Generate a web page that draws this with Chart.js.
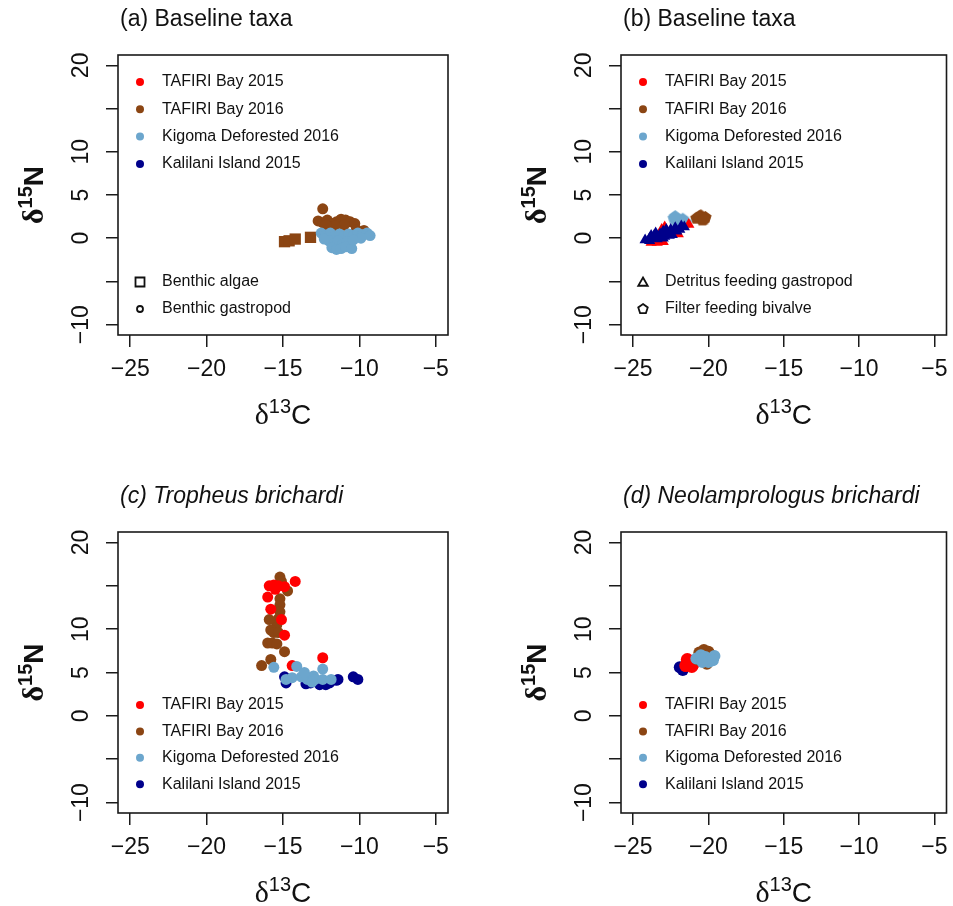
<!DOCTYPE html>
<html>
<head>
<meta charset="utf-8">
<script src="https://cdn.jsdelivr.net/npm/chart.js@4.4.1/dist/chart.umd.min.js"></script>
<style>
  body { margin: 0; background: #fff; }
  #wrap { position: relative; width: 953px; height: 906px; }
  #wrap canvas { position: absolute; }
</style>
</head>
<body>
<div id="wrap">
  <canvas id="chartA" width="476" height="453" style="left:0;top:0"></canvas>
  <canvas id="chartB" width="477" height="453" style="left:476px;top:0"></canvas>
  <canvas id="chartC" width="476" height="453" style="left:0;top:453px"></canvas>
  <canvas id="chartD" width="477" height="453" style="left:476px;top:453px"></canvas>
</div>
<script>
// Sites (legend order) and their colours
var siteNames = ['TAFIRI Bay 2015', 'TAFIRI Bay 2016', 'Kigoma Deforested 2016', 'Kalilani Island 2015'];
var siteColours = ['#FF0000', '#8B4513', '#6CA6CD', '#00008B'];

// Axis ticks, shared by all panels
var xLim = [-25, -5];
var yLim = [-10, 20];
var xTicks = [-25, -20, -15, -10, -5];
var xTickLabels = ['\u221225', '\u221220', '\u221215', '\u221210', '\u22125'];
var yTicks = [-10, -5, 0, 5, 10, 15, 20];
var yTickLabels = ['\u221210', '', '0', '5', '10', '', '20'];

// (a) baseline taxa: benthic algae and benthic gastropods  [d13C, d15N]
var aAlgaeBay16 = [[-14.9, -0.4], [-14.6, -0.3], [-14.2, -0.1], [-13.2, 0.1]];
var aSnailBay16 = [[-12.4, 3.4], [-12.7, 2.0], [-12.4, 1.8], [-12.1, 2.1], [-11.8, 1.7], [-11.5, 1.9],
  [-11.2, 2.2], [-10.9, 2.1], [-10.6, 1.9], [-10.3, 1.7], [-11.0, 1.5], [-11.6, 1.4], [-12.2, 1.5],
  [-10.2, 1.0], [-9.7, 0.9]];
var aSnailKig16 = [[-12.5, 0.6], [-12.2, 0.3], [-11.9, 0.6], [-11.6, 0.2], [-11.3, 0.5], [-11.0, 0.2],
  [-10.7, 0.5], [-10.4, 0.3], [-10.1, 0.6], [-9.8, 0.4], [-9.5, 0.6], [-9.3, 0.3], [-9.9, 0.0],
  [-12.0, -0.3], [-11.7, -0.6], [-11.4, -0.3], [-11.1, -0.7], [-10.8, -0.4], [-11.8, -1.1],
  [-11.5, -1.3], [-11.2, -1.2], [-10.9, -1.0], [-10.5, -1.2], [-10.4, -0.2], [-12.3, -0.1]];

// (b) baseline taxa: detritus feeding gastropods and filter feeding bivalves
var bSnailBay15 = [[-23.8, -0.5], [-23.4, -0.5], [-23.0, -0.4], [-22.9, 1.3], [-22.3, 0.7], [-21.3, 1.6],
  [-23.1, 1.0], [-22.0, 0.5], [-23.6, -0.2]];
var bSnailKal15 = [[-24.2, -0.2], [-23.9, 0.0], [-23.6, 0.3], [-23.4, -0.1], [-23.2, 0.5], [-23.0, 0.8],
  [-22.7, 0.6], [-22.5, 1.0], [-22.2, 1.2], [-21.9, 1.0], [-21.6, 1.3], [-23.5, 0.6], [-22.9, 0.2],
  [-22.4, 0.4], [-23.8, 0.3], [-23.3, 0.1], [-22.8, 1.0], [-22.6, 0.3], [-22.1, 0.8], [-21.8, 1.4],
  [-23.9, -0.3], [-23.0, 0.0]];
var bMusselKig16 = [[-22.3, 2.3], [-22.0, 2.1], [-21.7, 2.2], [-21.5, 1.8], [-22.1, 1.8], [-21.8, 1.9], [-22.2, 2.5]];
var bMusselBay16 = [[-20.8, 2.3], [-20.5, 2.6], [-20.2, 2.4], [-20.4, 2.1], [-20.6, 2.5], [-20.3, 2.2]];

// (c) Tropheus brichardi
var cBay15 = [[-14.2, 15.5], [-15.9, 15.0], [-15.6, 15.1], [-15.3, 15.0], [-14.9, 14.9], [-16.0, 13.7],
  [-15.8, 12.3], [-15.1, 11.1], [-14.9, 9.3], [-14.4, 5.8], [-12.4, 6.7], [-15.5, 14.6]];
var cBay16 = [[-15.2, 16.0], [-14.7, 14.4], [-15.2, 13.5], [-15.2, 12.8], [-15.2, 12.0], [-15.3, 11.2],
  [-15.4, 10.5], [-15.9, 11.1], [-15.8, 9.9], [-15.6, 9.6], [-15.3, 9.6], [-16.0, 8.4], [-15.7, 8.4],
  [-15.4, 8.3], [-14.9, 7.4], [-15.8, 6.5], [-16.4, 5.8], [-15.1, 15.5]];
var cKig16 = [[-15.6, 5.6], [-14.1, 5.7], [-14.4, 4.4], [-13.8, 4.5], [-13.4, 4.2], [-13.0, 4.6],
  [-12.9, 4.2], [-12.4, 5.4], [-12.4, 4.2], [-11.85, 4.2], [-14.8, 4.2], [-13.1, 3.9], [-13.6, 5.0]];
var cKal15 = [[-14.9, 4.5], [-14.8, 3.8], [-13.5, 3.7], [-12.6, 3.6], [-12.2, 3.6], [-11.95, 3.8],
  [-11.4, 4.2], [-10.4, 4.5], [-10.1, 4.2], [-11.5, 4.1], [-13.2, 3.8]];

// (d) Neolamprologus brichardi
var dBay15 = [[-21.5, 5.8], [-21.3, 6.3], [-21.0, 6.0], [-21.4, 6.5], [-21.1, 5.7]];
var dBay16 = [[-20.6, 7.3], [-20.3, 7.6], [-20.0, 7.4], [-19.8, 7.0], [-20.1, 6.0], [-20.7, 6.5]];
var dKig16 = [[-20.8, 6.6], [-20.5, 7.0], [-20.2, 6.8], [-19.8, 6.5], [-19.6, 6.9], [-20.0, 6.2], [-20.4, 6.2], [-19.7, 6.4]];
var dKal15 = [[-21.9, 5.6], [-21.7, 5.3]];

var FONT = '"Liberation Sans", Arial, sans-serif';
Chart.defaults.font.family = FONT;

// filled pentagon sprite, used as a point style
function pentagon(colour, r) {
  var c = document.createElement('canvas');
  var s = Math.ceil(r * 2 + 2);
  c.width = s; c.height = s;
  var g = c.getContext('2d');
  g.beginPath();
  for (var k = 0; k < 5; k++) {
    var a = -Math.PI / 2 + k * 2 * Math.PI / 5;
    g.lineTo(s / 2 + r * Math.cos(a), s / 2 + r * Math.sin(a));
  }
  g.closePath();
  g.fillStyle = colour;
  g.fill();
  return c;
}

function pts(arr) {
  return arr.map(function (p) { return { x: p[0], y: p[1] }; });
}

function series(data, site, style, radius, order) {
  return {
    data: pts(data),
    backgroundColor: siteColours[site],
    borderWidth: 0,
    pointStyle: style,
    pointRadius: radius,
    pointHoverRadius: radius,
    order: order
  };
}

// delta notation label, e.g. d13C, centred on x = 0, baseline at y = 0
function drawDelta(ctx, iso, elem, bold) {
  var w = bold ? 'bold ' : '';
  var parts = [
    { t: '\u03b4', f: w + '30px "Liberation Serif", serif', dy: 0 },
    { t: iso, f: w + '20px ' + FONT, dy: -11 },
    { t: elem, f: w + '28px ' + FONT, dy: 0 }
  ];
  var total = 0;
  parts.forEach(function (p) { ctx.font = p.f; p.w = ctx.measureText(p.t).width; total += p.w; });
  var x = -total / 2;
  ctx.textAlign = 'left';
  ctx.textBaseline = 'alphabetic';
  parts.forEach(function (p) { ctx.font = p.f; ctx.fillText(p.t, x, p.dy); x += p.w; });
}

function drawShape(ctx, shape, x, y) {
  ctx.beginPath();
  if (shape === 'square') {
    ctx.rect(x - 4.5, y - 4.5, 9, 9);
  } else if (shape === 'circle') {
    ctx.arc(x, y, 3, 0, Math.PI * 2);
  } else {
    var n = shape === 'triangle' ? 3 : 5;
    var r = shape === 'triangle' ? 5.5 : 5;
    for (var k = 0; k < n; k++) {
      var a = -Math.PI / 2 + k * 2 * Math.PI / n;
      ctx.lineTo(x + r * Math.cos(a), y + r * Math.sin(a) + (n === 3 ? 1 : 0));
    }
    ctx.closePath();
  }
  ctx.stroke();
}

// frame, titles, axis labels and legends
var panelDeco = {
  id: 'panelDeco',
  afterDraw: function (chart, args, o) {
    var ctx = chart.ctx;
    var a = chart.chartArea;
    ctx.save();
    ctx.strokeStyle = '#1a1a1a';
    ctx.lineWidth = 1.6;
    ctx.strokeRect(a.left, a.top, a.right - a.left, a.bottom - a.top);

    ctx.fillStyle = '#111';
    ctx.font = (o.italic ? 'italic ' : '') + '23px ' + FONT;
    ctx.textAlign = 'left';
    ctx.textBaseline = 'middle';
    ctx.fillText(o.title, a.left + 2, a.top - 35);

    ctx.save();
    ctx.translate((a.left + a.right) / 2, a.bottom + 89);
    drawDelta(ctx, '13', 'C', false);
    ctx.restore();

    ctx.save();
    ctx.translate(a.left - 75, (a.top + a.bottom) / 2);
    ctx.rotate(-Math.PI / 2);
    drawDelta(ctx, '15', 'N', true);
    ctx.restore();

    ctx.font = '16px ' + FONT;
    ctx.textBaseline = 'middle';
    siteNames.forEach(function (name, i) {
      var y = a.top + o.legendTop + i * o.legendStep;
      ctx.beginPath();
      ctx.arc(a.left + 22, y, 4, 0, Math.PI * 2);
      ctx.fillStyle = siteColours[i];
      ctx.fill();
      ctx.fillStyle = '#111';
      ctx.fillText(name, a.left + 44, y);
    });

    if (o.shapes) {
      ctx.strokeStyle = '#111';
      ctx.lineWidth = 1.8;
      o.shapes.forEach(function (s, i) {
        var y = a.top + 227 + i * 27;
        drawShape(ctx, s, a.left + 22, y);
        ctx.fillText(o.shapeNames[i], a.left + 44, y);
      });
    }
    ctx.restore();
  }
};

function makePanel(id, box, deco, datasets) {
  var el = document.getElementById(id);
  var w = el.width, h = el.height;
  var xPad = (xLim[1] - xLim[0]) * 0.04;
  var yPad = (yLim[1] - yLim[0]) * 0.04;
  var grid = { drawOnChartArea: false, drawTicks: true, tickLength: 12, color: '#1a1a1a', lineWidth: 1.5 };
  return new Chart(el.getContext('2d'), {
    type: 'scatter',
    data: { datasets: datasets },
    options: {
      responsive: false,
      animation: false,
      events: [],
      layout: { padding: { left: 0, top: box[1], right: w - box[2], bottom: 0 } },
      scales: {
        x: {
          type: 'linear',
          min: xLim[0] - xPad,
          max: xLim[1] + xPad,
          afterBuildTicks: function (s) { s.ticks = xTicks.map(function (v) { return { value: v }; }); },
          afterFit: function (s) { s.height = h - box[3]; s.paddingLeft = 0; s.paddingRight = 0; },
          grid: grid,
          border: { display: false },
          ticks: {
            autoSkip: false, maxRotation: 0, padding: 9, color: '#111',
            font: { size: 23 },
            callback: function (v, i) { return xTickLabels[i]; }
          }
        },
        y: {
          type: 'linear',
          min: yLim[0] - yPad,
          max: yLim[1] + yPad,
          afterBuildTicks: function (s) { s.ticks = yTicks.map(function (v) { return { value: v }; }); },
          afterFit: function (s) { s.width = box[0]; s.paddingTop = 0; s.paddingBottom = 0; },
          grid: grid,
          border: { display: false },
          ticks: {
            autoSkip: false, minRotation: 90, maxRotation: 90, crossAlign: 'center', padding: 5, color: '#111',
            font: { size: 23 },
            callback: function (v, i) { return yTickLabels[i]; }
          }
        }
      },
      plugins: {
        legend: { display: false },
        tooltip: { enabled: false },
        panelDeco: deco
      }
    },
    plugins: [panelDeco]
  });
}

var chartA = makePanel('chartA', [118, 55, 448, 335],
  { title: '(a) Baseline taxa', italic: false, legendTop: 27, legendStep: 27.3,
    shapes: ['square', 'circle'], shapeNames: ['Benthic algae', 'Benthic gastropod'] },
  [
    series(aSnailKig16, 2, 'circle', 5.5, 1),
    series(aSnailBay16, 1, 'circle', 5.5, 2),
    series(aAlgaeBay16, 1, 'rect', 8, 3)
  ]);

var chartB = makePanel('chartB', [145, 55, 474, 335],
  { title: '(b) Baseline taxa', italic: false, legendTop: 27, legendStep: 27.3,
    shapes: ['triangle', 'pentagon'], shapeNames: ['Detritus feeding gastropod', 'Filter feeding bivalve'] },
  [
    series(bSnailKal15, 3, 'triangle', 6.5, 1),
    series(bSnailBay15, 0, 'triangle', 6.5, 2),
    series(bMusselKig16, 2, pentagon(siteColours[2], 6.5), 6.5, 3),
    series(bMusselBay16, 1, pentagon(siteColours[1], 6.5), 6.5, 4)
  ]);

var chartC = makePanel('chartC', [118, 79, 448, 360],
  { title: '(c) Tropheus brichardi', italic: true, legendTop: 173, legendStep: 26.4 },
  [
    series(cKig16, 2, 'circle', 5.5, 1),
    series(cBay15, 0, 'circle', 5.5, 2),
    series(cBay16, 1, 'circle', 5.5, 3),
    series(cKal15, 3, 'circle', 5.5, 4)
  ]);

var chartD = makePanel('chartD', [145, 79, 474, 360],
  { title: '(d) Neolamprologus brichardi', italic: true, legendTop: 173, legendStep: 26.4 },
  [
    series(dKig16, 2, 'circle', 6, 1),
    series(dBay16, 1, 'circle', 6, 2),
    series(dBay15, 0, 'circle', 6.5, 3),
    series(dKal15, 3, 'circle', 6, 4)
  ]);
</script>
</body>
</html>
